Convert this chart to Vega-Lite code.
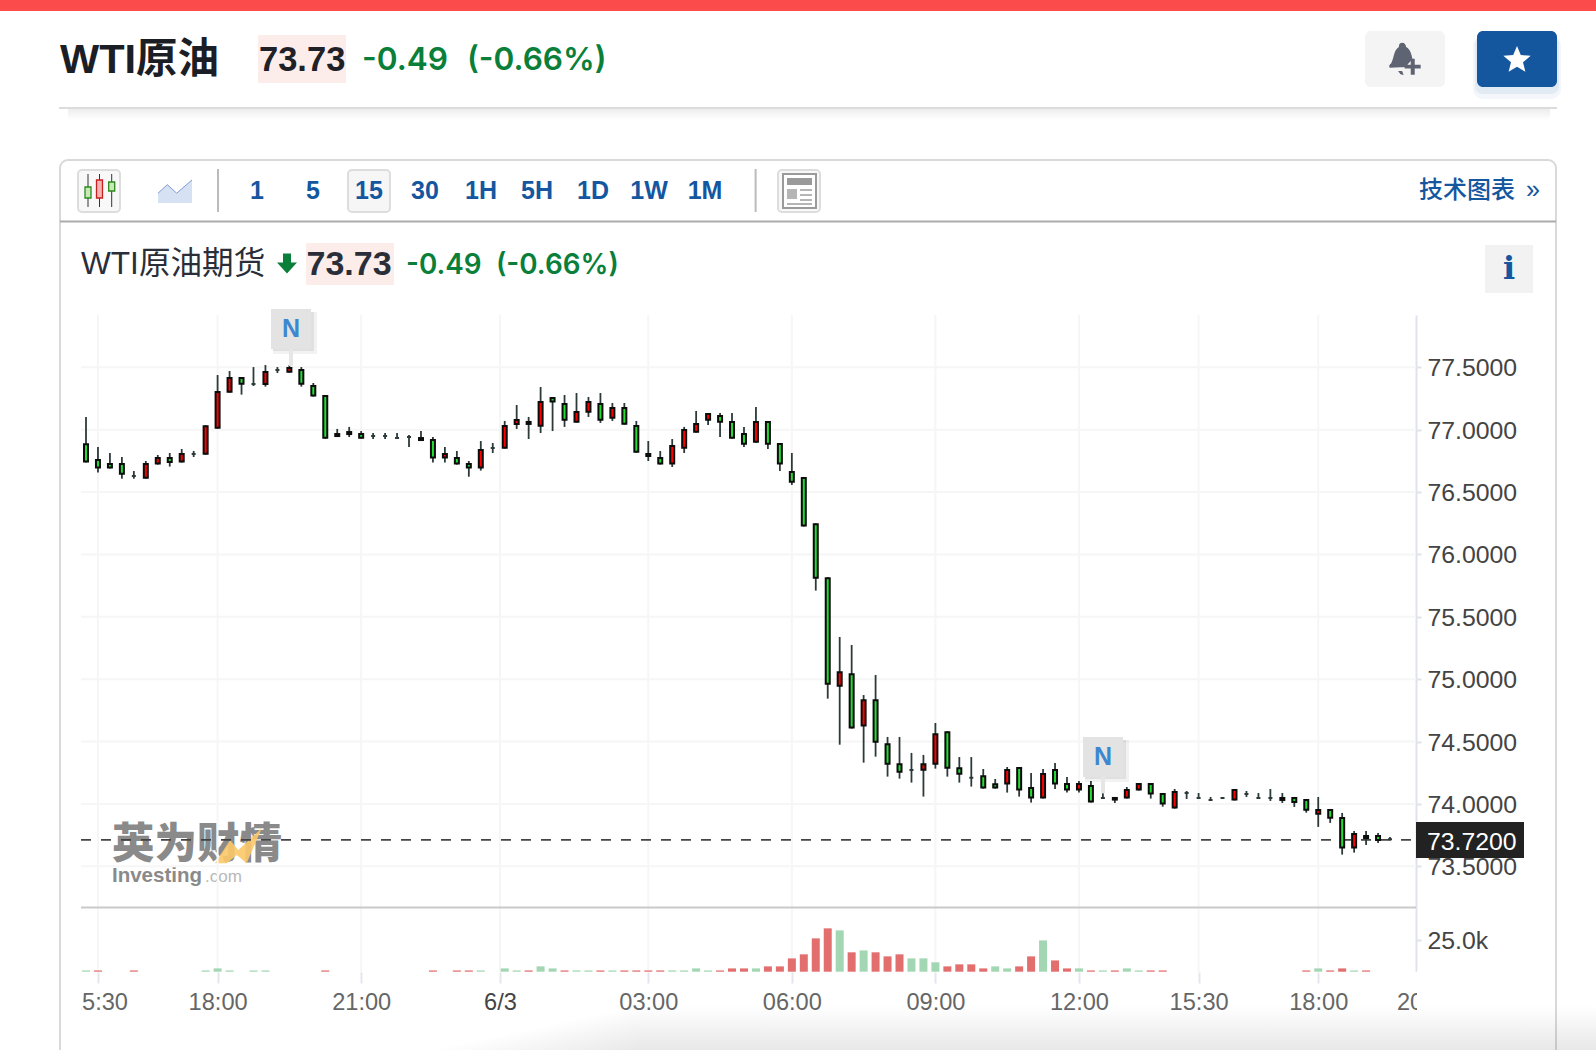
{"$schema":"https://vega.github.io/schema/vega-lite/v6.json","width":1596,"height":1050,"padding":0,"autosize":{"type":"none"},"background":"#ffffff","config":{"view":{"stroke":null}},
"datasets":{
"candles":[
{"t":0,"o":76.883,"h":77.102,"l":76.736,"c":76.744,"d":"down"},{"t":1,"o":76.757,"h":76.861,"l":76.656,"c":76.696,"d":"down"},{"t":2,"o":76.725,"h":76.813,"l":76.688,"c":76.696,"d":"down"},{"t":3,"o":76.725,"h":76.781,"l":76.607,"c":76.647,"d":"down"},{"t":4,"o":76.629,"h":76.669,"l":76.607,"c":76.629,"d":"flat"},{"t":5,"o":76.615,"h":76.749,"l":76.607,"c":76.725,"d":"up"},{"t":6,"o":76.728,"h":76.797,"l":76.72,"c":76.773,"d":"up"},{"t":7,"o":76.773,"h":76.813,"l":76.704,"c":76.741,"d":"down"},{"t":8,"o":76.744,"h":76.845,"l":76.736,"c":76.805,"d":"up"},{"t":9,"o":76.805,"h":76.829,"l":76.781,"c":76.805,"d":"flat"},
{"t":10,"o":76.808,"h":77.035,"l":76.8,"c":77.027,"d":"up"},{"t":11,"o":77.016,"h":77.438,"l":77.008,"c":77.302,"d":"up"},{"t":12,"o":77.305,"h":77.47,"l":77.297,"c":77.414,"d":"up"},{"t":13,"o":77.414,"h":77.422,"l":77.281,"c":77.369,"d":"down"},{"t":14,"o":77.366,"h":77.502,"l":77.35,"c":77.366,"d":"flat"},{"t":15,"o":77.366,"h":77.518,"l":77.345,"c":77.462,"d":"up"},{"t":16,"o":77.478,"h":77.502,"l":77.454,"c":77.478,"d":"flat"},{"t":17,"o":77.465,"h":77.518,"l":77.457,"c":77.494,"d":"up"},{"t":18,"o":77.478,"h":77.502,"l":77.345,"c":77.369,"d":"down"},{"t":19,"o":77.35,"h":77.374,"l":77.265,"c":77.273,"d":"down"},
{"t":20,"o":77.27,"h":77.278,"l":76.928,"c":76.936,"d":"down"},{"t":21,"o":76.965,"h":77.006,"l":76.941,"c":76.949,"d":"down"},{"t":22,"o":76.981,"h":77.022,"l":76.941,"c":76.965,"d":"down"},{"t":23,"o":76.965,"h":76.989,"l":76.928,"c":76.936,"d":"down"},{"t":24,"o":76.949,"h":76.973,"l":76.925,"c":76.949,"d":"flat"},{"t":25,"o":76.949,"h":76.973,"l":76.925,"c":76.949,"d":"flat"},{"t":26,"o":76.933,"h":76.973,"l":76.933,"c":76.933,"d":"flat"},{"t":27,"o":76.941,"h":76.957,"l":76.861,"c":76.941,"d":"flat"},{"t":28,"o":76.933,"h":76.989,"l":76.909,"c":76.917,"d":"down"},{"t":29,"o":76.917,"h":76.941,"l":76.736,"c":76.776,"d":"down"},
{"t":30,"o":76.776,"h":76.861,"l":76.736,"c":76.805,"d":"up"},{"t":31,"o":76.773,"h":76.829,"l":76.72,"c":76.728,"d":"down"},{"t":32,"o":76.725,"h":76.749,"l":76.623,"c":76.696,"d":"down"},{"t":33,"o":76.696,"h":76.909,"l":76.672,"c":76.837,"d":"up"},{"t":34,"o":76.853,"h":76.893,"l":76.813,"c":76.853,"d":"flat"},{"t":35,"o":76.856,"h":77.07,"l":76.848,"c":77.03,"d":"up"},{"t":36,"o":77.046,"h":77.198,"l":77.006,"c":77.078,"d":"up"},{"t":37,"o":77.062,"h":77.102,"l":76.925,"c":77.046,"d":"down"},{"t":38,"o":77.032,"h":77.342,"l":76.973,"c":77.222,"d":"up"},{"t":39,"o":77.254,"h":77.262,"l":76.989,"c":77.225,"d":"down"},
{"t":40,"o":77.206,"h":77.278,"l":77.022,"c":77.08,"d":"down"},{"t":41,"o":77.064,"h":77.294,"l":77.056,"c":77.142,"d":"up"},{"t":42,"o":77.144,"h":77.262,"l":77.102,"c":77.222,"d":"up"},{"t":43,"o":77.206,"h":77.294,"l":77.054,"c":77.08,"d":"down"},{"t":44,"o":77.096,"h":77.214,"l":77.07,"c":77.174,"d":"up"},{"t":45,"o":77.174,"h":77.214,"l":77.04,"c":77.048,"d":"down"},{"t":46,"o":77.03,"h":77.07,"l":76.816,"c":76.824,"d":"down"},{"t":47,"o":76.805,"h":76.909,"l":76.749,"c":76.789,"d":"down"},{"t":48,"o":76.773,"h":76.829,"l":76.72,"c":76.728,"d":"down"},{"t":49,"o":76.728,"h":76.925,"l":76.701,"c":76.869,"d":"up"},
{"t":50,"o":76.856,"h":77.022,"l":76.813,"c":76.998,"d":"up"},{"t":51,"o":76.984,"h":77.15,"l":76.976,"c":77.046,"d":"up"},{"t":52,"o":77.08,"h":77.134,"l":77.038,"c":77.126,"d":"up"},{"t":53,"o":77.11,"h":77.134,"l":76.941,"c":77.064,"d":"down"},{"t":54,"o":77.062,"h":77.134,"l":76.928,"c":76.936,"d":"down"},{"t":55,"o":76.965,"h":77.022,"l":76.861,"c":76.888,"d":"down"},{"t":56,"o":76.904,"h":77.182,"l":76.896,"c":77.062,"d":"up"},{"t":57,"o":77.062,"h":77.07,"l":76.845,"c":76.888,"d":"down"},{"t":58,"o":76.885,"h":76.893,"l":76.669,"c":76.728,"d":"down"},{"t":59,"o":76.661,"h":76.813,"l":76.557,"c":76.583,"d":"down"},
{"t":60,"o":76.613,"h":76.621,"l":76.223,"c":76.231,"d":"down"},{"t":61,"o":76.241,"h":76.249,"l":75.71,"c":75.814,"d":"down"},{"t":62,"o":75.809,"h":75.817,"l":74.844,"c":74.964,"d":"down"},{"t":63,"o":74.948,"h":75.338,"l":74.475,"c":75.055,"d":"up"},{"t":64,"o":75.039,"h":75.274,"l":74.604,"c":74.612,"d":"down"},{"t":65,"o":74.628,"h":74.873,"l":74.331,"c":74.831,"d":"up"},{"t":66,"o":74.831,"h":75.034,"l":74.379,"c":74.499,"d":"down"},{"t":67,"o":74.478,"h":74.537,"l":74.219,"c":74.323,"d":"down"},{"t":68,"o":74.318,"h":74.537,"l":74.203,"c":74.259,"d":"down"},{"t":69,"o":74.272,"h":74.409,"l":74.171,"c":74.272,"d":"flat"},
{"t":70,"o":74.275,"h":74.393,"l":74.059,"c":74.318,"d":"up"},{"t":71,"o":74.323,"h":74.649,"l":74.283,"c":74.558,"d":"up"},{"t":72,"o":74.574,"h":74.582,"l":74.219,"c":74.291,"d":"down"},{"t":73,"o":74.286,"h":74.376,"l":74.171,"c":74.243,"d":"down"},{"t":74,"o":74.211,"h":74.376,"l":74.139,"c":74.211,"d":"flat"},{"t":75,"o":74.222,"h":74.28,"l":74.123,"c":74.131,"d":"down"},{"t":76,"o":74.157,"h":74.2,"l":74.123,"c":74.131,"d":"down"},{"t":77,"o":74.163,"h":74.296,"l":74.091,"c":74.272,"d":"up"},{"t":78,"o":74.288,"h":74.296,"l":74.059,"c":74.115,"d":"down"},{"t":79,"o":74.128,"h":74.248,"l":74.011,"c":74.051,"d":"down"},
{"t":80,"o":74.051,"h":74.28,"l":74.043,"c":74.24,"d":"up"},{"t":81,"o":74.272,"h":74.329,"l":74.12,"c":74.163,"d":"down"},{"t":82,"o":74.16,"h":74.216,"l":74.091,"c":74.115,"d":"down"},{"t":83,"o":74.115,"h":74.184,"l":74.091,"c":74.16,"d":"up"},{"t":84,"o":74.144,"h":74.184,"l":74.011,"c":74.019,"d":"down"},{"t":85,"o":74.048,"h":74.085,"l":74.043,"c":74.048,"d":"flat"},{"t":86,"o":74.048,"h":74.056,"l":74.008,"c":74.035,"d":"down"},{"t":87,"o":74.051,"h":74.136,"l":74.043,"c":74.112,"d":"up"},{"t":88,"o":74.115,"h":74.168,"l":74.107,"c":74.16,"d":"up"},{"t":89,"o":74.16,"h":74.168,"l":74.043,"c":74.083,"d":"down"},
{"t":90,"o":74.08,"h":74.088,"l":73.978,"c":74.003,"d":"down"},{"t":91,"o":73.971,"h":74.12,"l":73.962,"c":74.096,"d":"up"},{"t":92,"o":74.088,"h":74.104,"l":74.04,"c":74.088,"d":"flat"},{"t":93,"o":74.048,"h":74.088,"l":74.04,"c":74.048,"d":"flat"},{"t":94,"o":74.032,"h":74.056,"l":74.024,"c":74.032,"d":"flat"},{"t":95,"o":74.048,"h":74.048,"l":74.048,"c":74.048,"d":"flat"},{"t":96,"o":74.035,"h":74.12,"l":74.027,"c":74.112,"d":"up"},{"t":97,"o":74.08,"h":74.104,"l":74.056,"c":74.08,"d":"flat"},{"t":98,"o":74.048,"h":74.088,"l":74.04,"c":74.048,"d":"flat"},{"t":99,"o":74.048,"h":74.12,"l":74.024,"c":74.048,"d":"flat"},
{"t":100,"o":74.048,"h":74.088,"l":74.008,"c":74.032,"d":"down"},{"t":101,"o":74.048,"h":74.056,"l":73.976,"c":74.016,"d":"down"},{"t":102,"o":74.032,"h":74.04,"l":73.93,"c":73.954,"d":"down"},{"t":103,"o":73.922,"h":74.056,"l":73.816,"c":73.952,"d":"up"},{"t":104,"o":73.952,"h":73.96,"l":73.848,"c":73.89,"d":"down"},{"t":105,"o":73.888,"h":73.928,"l":73.594,"c":73.65,"d":"down"},{"t":106,"o":73.65,"h":73.783,"l":73.61,"c":73.759,"d":"up"},{"t":107,"o":73.743,"h":73.783,"l":73.671,"c":73.727,"d":"down"},{"t":108,"o":73.743,"h":73.767,"l":73.687,"c":73.711,"d":"down"},{"t":109,"o":73.717,"h":73.735,"l":73.711,"c":73.717,"d":"flat"}
],
"volume":[
{"t":0,"v":1000,"d":"down"},{"t":1,"v":1000,"d":"up"},{"t":4,"v":1000,"d":"up"},{"t":10,"v":1000,"d":"down"},{"t":11,"v":2600,"d":"down"},{"t":12,"v":1000,"d":"down"},{"t":14,"v":1000,"d":"down"},{"t":15,"v":1000,"d":"down"},{"t":20,"v":1000,"d":"up"},{"t":29,"v":1000,"d":"up"},{"t":31,"v":1000,"d":"up"},{"t":32,"v":1000,"d":"up"},{"t":33,"v":1000,"d":"down"},{"t":35,"v":2600,"d":"down"},{"t":36,"v":1000,"d":"down"},{"t":37,"v":1000,"d":"up"},{"t":38,"v":4200,"d":"down"},{"t":39,"v":2600,"d":"down"},{"t":40,"v":1000,"d":"up"},{"t":41,"v":1000,"d":"down"},{"t":42,"v":1000,"d":"down"},{"t":43,"v":1000,"d":"up"},{"t":44,"v":1000,"d":"down"},{"t":45,"v":1000,"d":"up"},{"t":46,"v":1000,"d":"up"},{"t":47,"v":1000,"d":"up"},{"t":48,"v":1000,"d":"up"},{"t":49,"v":1000,"d":"down"},{"t":50,"v":1000,"d":"down"},{"t":51,"v":2600,"d":"down"},{"t":52,"v":1000,"d":"down"},{"t":53,"v":1000,"d":"up"},{"t":54,"v":2600,"d":"up"},{"t":55,"v":2600,"d":"up"},{"t":56,"v":2600,"d":"down"},{"t":57,"v":4200,"d":"up"},{"t":58,"v":4200,"d":"up"},{"t":59,"v":10500,"d":"up"},{"t":60,"v":13700,"d":"up"},{"t":61,"v":26300,"d":"up"},{"t":62,"v":34200,"d":"up"},{"t":63,"v":32600,"d":"down"},{"t":64,"v":15300,"d":"up"},{"t":65,"v":16800,"d":"down"},{"t":66,"v":15300,"d":"up"},{"t":67,"v":12100,"d":"up"},{"t":68,"v":13700,"d":"up"},{"t":69,"v":10500,"d":"down"},{"t":70,"v":10500,"d":"down"},{"t":71,"v":7400,"d":"down"},{"t":72,"v":4200,"d":"up"},{"t":73,"v":5800,"d":"up"},{"t":74,"v":5800,"d":"up"},{"t":75,"v":2600,"d":"up"},{"t":76,"v":4200,"d":"down"},{"t":77,"v":2600,"d":"down"},{"t":78,"v":4200,"d":"up"},{"t":79,"v":12100,"d":"up"},{"t":80,"v":24700,"d":"down"},{"t":81,"v":8900,"d":"up"},{"t":82,"v":2600,"d":"up"},{"t":83,"v":2600,"d":"down"},{"t":84,"v":1000,"d":"up"},{"t":85,"v":1000,"d":"down"},{"t":86,"v":1000,"d":"up"},{"t":87,"v":2600,"d":"down"},{"t":88,"v":1000,"d":"down"},{"t":89,"v":1000,"d":"up"},{"t":90,"v":1000,"d":"up"},{"t":102,"v":1000,"d":"up"},{"t":103,"v":2600,"d":"down"},{"t":104,"v":1000,"d":"up"},{"t":105,"v":2600,"d":"up"},{"t":106,"v":1000,"d":"down"},{"t":107,"v":1000,"d":"up"}
],
"levels":[{"p":73.5},{"p":74},{"p":74.5},{"p":75},{"p":75.5},{"p":76},{"p":76.5},{"p":77},{"p":77.5}],
"slots":[{"t":1},{"t":11},{"t":23},{"t":34.6},{"t":47},{"t":59},{"t":71},{"t":83},{"t":93},{"t":103}]
},
"resolve":{"scale":{"x":"independent","y":"independent","fill":"independent","stroke":"independent"},"axis":{"x":"independent","y":"independent"}},
"layer":[
{"data":{"values":[{}]},
"encoding":{"x":{"type":"quantitative","scale":{"domain":[0,1596],"range":[0,1596]},"axis":null},"y":{"type":"quantitative","scale":{"domain":[0,1050],"range":[0,1050]},"axis":null}},
"layer":[
{"mark":{"type":"rect","color":"#fb4b4b"},"encoding":{"x":{"datum":0},"x2":{"datum":1596},"y":{"datum":0},"y2":{"datum":11}}},
{"mark":{"type":"rect","color":{"gradient":"linear","x1":0,"y1":0,"x2":0,"y2":1,"stops":[{"offset":0,"color":"rgba(0,0,0,0.07)"},{"offset":1,"color":"rgba(0,0,0,0)"}]}},"encoding":{"x":{"datum":68},"x2":{"datum":1550},"y":{"datum":109},"y2":{"datum":120}}},
{"mark":{"type":"rule","color":"#dcdcdc","strokeWidth":2},"encoding":{"x":{"datum":59},"x2":{"datum":1557},"y":{"datum":108}}},
{"mark":{"type":"rect","color":"#fcedeb"},"encoding":{"x":{"datum":258},"x2":{"datum":346},"y":{"datum":35},"y2":{"datum":83}}},
{"mark":{"type":"text","align":"left","baseline":"middle","font":"Liberation Sans, Noto Sans CJK SC","fontSize":41.5,"fontWeight":"bold","color":"#1b1e25"},"encoding":{"x":{"datum":60},"y":{"datum":61},"text":{"value":"WTI原油"}}},
{"mark":{"type":"text","align":"left","baseline":"middle","font":"Liberation Sans","fontSize":34.5,"fontWeight":"bold","color":"#1f2126"},"encoding":{"x":{"datum":259},"y":{"datum":61},"text":{"value":"73.73"}}},
{"mark":{"type":"text","align":"left","baseline":"middle","font":"Inter","fontSize":31.6,"fontWeight":600,"color":"#0a7f3a"},"encoding":{"x":{"datum":362},"y":{"datum":61},"text":{"value":"-0.49"}}},
{"mark":{"type":"text","align":"left","baseline":"middle","font":"Inter","fontSize":31.6,"fontWeight":600,"color":"#0a7f3a"},"encoding":{"x":{"datum":467},"y":{"datum":61},"text":{"value":"(-0.66%)"}}},
{"mark":{"type":"rect","color":"#f4f4f4","cornerRadius":6},"encoding":{"x":{"datum":1365},"x2":{"datum":1445},"y":{"datum":31},"y2":{"datum":87}}},
{"mark":{"type":"point","filled":true,"opacity":1,"color":"#5f6472","size":1024,"shape":"M-0.2,-1 C-0.05,-1.05 0.1,-0.9 0.1,-0.75 C0.4,-0.6 0.45,-0.2 0.5,0 L0.05,0.5 L-0.9,0.55 C-1,0.5 -0.95,0.35 -0.85,0.3 C-0.65,0 -0.7,-0.55 -0.35,-0.75 C-0.35,-0.9 -0.3,-1 -0.2,-1Z M-0.4,0.75 L-0.15,0.75 L-0.05,1 L-0.25,0.95Z M0.39,-0.02 H0.64 V0.36 H1.01 V0.6 H0.64 V0.98 H0.39 V0.6 H0.01 V0.36 H0.39 Z"},"encoding":{"x":{"datum":1404.5},"y":{"datum":59}}},
{"mark":{"type":"rect","color":"#14579f","opacity":0.05,"cornerRadius":10},"encoding":{"x":{"datum":1473},"x2":{"datum":1561},"y":{"datum":36},"y2":{"datum":99}}},
{"mark":{"type":"rect","color":"#14579f","opacity":0.07,"cornerRadius":8},"encoding":{"x":{"datum":1475},"x2":{"datum":1559},"y":{"datum":36},"y2":{"datum":94}}},
{"mark":{"type":"rect","color":"#14579f","cornerRadius":6},"encoding":{"x":{"datum":1477},"x2":{"datum":1557},"y":{"datum":31},"y2":{"datum":87}}},
{"mark":{"type":"point","shape":"M0,-1 L0.27,-0.35 L0.98,-0.3 L0.43,0.16 L0.6,0.85 L0,0.48 L-0.6,0.85 L-0.43,0.16 L-0.98,-0.3 L-0.27,-0.35 Z","filled":true,"opacity":1,"color":"#ffffff","size":780},"encoding":{"x":{"datum":1517},"y":{"datum":60}}},
{"mark":{"type":"rect","fill":null,"stroke":"#d9d9d9","strokeWidth":2,"cornerRadius":8},"encoding":{"x":{"datum":60},"x2":{"datum":1556},"y":{"datum":160},"y2":{"datum":1120}}},
{"mark":{"type":"rule","color":"#ababab","strokeWidth":2},"encoding":{"x":{"datum":60},"x2":{"datum":1556},"y":{"datum":221.5}}},
{"mark":{"type":"rect","fill":"#f8f8f8","stroke":"#dddddd","strokeWidth":2,"cornerRadius":4},"encoding":{"x":{"datum":78},"x2":{"datum":120},"y":{"datum":170},"y2":{"datum":212}}},
{"mark":{"type":"rule","color":"#333333","strokeWidth":1},"encoding":{"x":{"datum":88},"y":{"datum":174},"y2":{"datum":207}}},
{"mark":{"type":"rule","color":"#333333","strokeWidth":1},"encoding":{"x":{"datum":99.5},"y":{"datum":174},"y2":{"datum":207}}},
{"mark":{"type":"rule","color":"#333333","strokeWidth":1},"encoding":{"x":{"datum":111.7},"y":{"datum":174},"y2":{"datum":207}}},
{"mark":{"type":"rect","fill":"#c8e8b8","stroke":"#2a8a1a","strokeWidth":1.3},"encoding":{"x":{"datum":85},"x2":{"datum":91},"y":{"datum":187},"y2":{"datum":198}}},
{"mark":{"type":"rect","fill":"#f2b5b5","stroke":"#c81e1e","strokeWidth":1.3},"encoding":{"x":{"datum":96.5},"x2":{"datum":102.5},"y":{"datum":180},"y2":{"datum":198}}},
{"mark":{"type":"rect","fill":"#c8e8b8","stroke":"#2a8a1a","strokeWidth":1.3},"encoding":{"x":{"datum":108.7},"x2":{"datum":114.7},"y":{"datum":182},"y2":{"datum":191}}},
{"mark":{"type":"point","filled":true,"opacity":1,"color":"#d6e1f4","size":1156,"shape":"M-1,0.1 L-0.45,-0.4 L0.1,0.1 L1,-0.68 L1,0.68 L-1,0.68Z"},"encoding":{"x":{"datum":175},"y":{"datum":191.5}}},
{"mark":{"type":"point","filled":false,"opacity":1,"color":"#7f9cd0","strokeWidth":1,"size":1156,"shape":"M-1,0.1 L-0.45,-0.4 L0.1,0.1 L1,-0.68"},"encoding":{"x":{"datum":175},"y":{"datum":191.5}}},
{"mark":{"type":"rule","color":"#bbbbbb","strokeWidth":2},"encoding":{"x":{"datum":218},"y":{"datum":169},"y2":{"datum":212}}},
{"mark":{"type":"rule","color":"#bbbbbb","strokeWidth":2},"encoding":{"x":{"datum":755.6},"y":{"datum":169},"y2":{"datum":212}}},
{"mark":{"type":"rect","fill":"#f6f6f6","stroke":"#dddddd","strokeWidth":2,"cornerRadius":4},"encoding":{"x":{"datum":348},"x2":{"datum":390},"y":{"datum":170},"y2":{"datum":212}}},
{"data":{"values":[{"k":"1"},{"k":"5"},{"k":"15"},{"k":"30"},{"k":"1H"},{"k":"5H"},{"k":"1D"},{"k":"1W"},{"k":"1M"}]},"mark":{"type":"text","baseline":"middle","font":"Liberation Sans","fontSize":25,"fontWeight":"bold","color":"#14579f"},"encoding":{"x":{"field":"k","type":"nominal","scale":{"type":"point","domain":["1","5","15","30","1H","5H","1D","1W","1M"],"range":[257,705],"padding":0}},"y":{"datum":191},"text":{"field":"k"}}},
{"mark":{"type":"rect","fill":"#f8f8f8","stroke":"#dddddd","strokeWidth":2,"cornerRadius":4},"encoding":{"x":{"datum":778},"x2":{"datum":820},"y":{"datum":170},"y2":{"datum":212}}},
{"mark":{"type":"rect","fill":"#ffffff","stroke":"#9a9a9a","strokeWidth":2},"encoding":{"x":{"datum":783},"x2":{"datum":816},"y":{"datum":174},"y2":{"datum":208}}},
{"mark":{"type":"rect","color":"#9a9a9a"},"encoding":{"x":{"datum":787},"x2":{"datum":812},"y":{"datum":178},"y2":{"datum":185}}},
{"mark":{"type":"rect","color":"#b5b5b5"},"encoding":{"x":{"datum":787},"x2":{"datum":797},"y":{"datum":189},"y2":{"datum":199}}},
{"mark":{"type":"rule","color":"#b5b5b5","strokeWidth":2},"encoding":{"x":{"datum":800},"x2":{"datum":812},"y":{"datum":190}}},
{"mark":{"type":"rule","color":"#b5b5b5","strokeWidth":2},"encoding":{"x":{"datum":800},"x2":{"datum":812},"y":{"datum":195}}},
{"mark":{"type":"rule","color":"#b5b5b5","strokeWidth":2},"encoding":{"x":{"datum":800},"x2":{"datum":812},"y":{"datum":200}}},
{"mark":{"type":"rule","color":"#b5b5b5","strokeWidth":2},"encoding":{"x":{"datum":787},"x2":{"datum":812},"y":{"datum":204}}},
{"mark":{"type":"text","align":"left","baseline":"middle","font":"Noto Sans CJK SC","fontSize":24,"fontWeight":500,"color":"#14579f"},"encoding":{"x":{"datum":1419},"y":{"datum":191},"text":{"value":"技术图表"}}},
{"mark":{"type":"text","align":"left","baseline":"middle","font":"Liberation Sans","fontSize":25,"color":"#14579f"},"encoding":{"x":{"datum":1526},"y":{"datum":190},"text":{"value":"»"}}},
{"mark":{"type":"text","align":"left","baseline":"middle","font":"Liberation Sans, Noto Sans CJK SC","fontSize":31.6,"color":"#2a2e39"},"encoding":{"x":{"datum":81},"y":{"datum":265},"text":{"value":"WTI原油期货"}}},
{"mark":{"type":"point","filled":true,"opacity":1,"color":"#0a7f3a","size":400,"shape":"M-0.4,-1 H0.4 V-0.1 H1 L0,1 L-1,-0.1 H-0.4 Z"},"encoding":{"x":{"datum":287},"y":{"datum":263.5}}},
{"mark":{"type":"rect","color":"#fcedeb"},"encoding":{"x":{"datum":306},"x2":{"datum":394},"y":{"datum":243},"y2":{"datum":285}}},
{"mark":{"type":"text","align":"left","baseline":"middle","font":"Liberation Sans","fontSize":34,"fontWeight":"bold","color":"#2a2e39"},"encoding":{"x":{"datum":306.5},"y":{"datum":265},"text":{"value":"73.73"}}},
{"mark":{"type":"text","align":"left","baseline":"middle","font":"Inter","fontSize":27.8,"fontWeight":600,"color":"#0a7f3a"},"encoding":{"x":{"datum":406},"y":{"datum":266},"text":{"value":"-0.49"}}},
{"mark":{"type":"text","align":"left","baseline":"middle","font":"Inter","fontSize":27.8,"fontWeight":600,"color":"#0a7f3a"},"encoding":{"x":{"datum":496},"y":{"datum":266},"text":{"value":"(-0.66%)"}}},
{"mark":{"type":"rect","color":"#f2f2f2"},"encoding":{"x":{"datum":1485},"x2":{"datum":1533},"y":{"datum":245},"y2":{"datum":293}}},
{"mark":{"type":"text","align":"center","baseline":"middle","font":"DejaVu Serif","fontSize":32,"fontWeight":"bold","color":"#14579f"},"encoding":{"x":{"datum":1509},"y":{"datum":269},"text":{"value":"i"}}},
{"mark":{"type":"text","align":"left","baseline":"middle","font":"Noto Sans CJK SC","fontSize":42.5,"fontWeight":900,"color":"#8a8a8a"},"encoding":{"x":{"datum":112},"y":{"datum":845},"text":{"value":"英为财情"}}},
{"mark":{"type":"point","filled":true,"opacity":0.9,"color":"#fcc868","size":2304,"shape":"M-0.96,0.72 L-0.33,-0.25 L0.01,0.17 L0.99,-0.74 L0.36,0.72 L-0.05,0.38 L-0.47,0.72 Z"},"encoding":{"x":{"datum":238},"y":{"datum":846}}},
{"mark":{"type":"text","align":"left","baseline":"middle","font":"Liberation Sans","fontSize":20.5,"fontWeight":"bold","color":"#8a8a8a"},"encoding":{"x":{"datum":112},"y":{"datum":876},"text":{"value":"Investing"}}},
{"mark":{"type":"text","align":"left","baseline":"middle","font":"Liberation Sans","fontSize":17,"color":"#b8b8b8"},"encoding":{"x":{"datum":205},"y":{"datum":877},"text":{"value":".com"}}}
]},
{"encoding":{"x":{"type":"quantitative","scale":{"domain":[0,112],"range":[86,1425.9],"padding":0},"axis":null},"y":{"type":"quantitative","scale":{"domain":[73.17,77.92],"range":[907.5,314.9],"padding":0}}},
"layer":[
{"data":{"name":"levels"},"mark":{"type":"rule","color":"#f6f6f6","strokeWidth":2},"encoding":{"y":{"field":"p","axis":{"orient":"right","offset":-180,"values":[73.5,74,74.5,75,75.5,76,76.5,77,77.5],"format":".4f","title":null,"grid":false,"domainColor":"#e0e3eb","domainWidth":2,"tickColor":"#e0e3eb","tickWidth":2,"tickSize":5,"labelFont":"Liberation Sans","labelFontSize":24.8,"labelColor":"#444444","labelPadding":6,"labelOffset":1.5}},"x":{"datum":-0.42},"x2":{"datum":111.18}}},
{"data":{"name":"slots"},"mark":{"type":"rule","color":"#f6f6f6","strokeWidth":2},"encoding":{"x":{"field":"t"},"y":{"datum":72.653},"y2":{"datum":77.92}}},
{"data":{"values":[{}]},"mark":{"type":"rule","color":"#444444","strokeWidth":1.7,"strokeDash":[10,10]},"encoding":{"y":{"datum":73.712},"x":{"datum":-0.42},"x2":{"datum":111.18}}},
{"data":{"values":[{}]},"mark":{"type":"rule","color":"#c9c9c9","strokeWidth":2},"encoding":{"y":{"datum":73.17},"x":{"datum":-0.42},"x2":{"datum":111.18}}},
{"data":{"name":"candles"},"mark":{"type":"rule","color":"#2d3a3a","strokeWidth":1.8},"encoding":{"x":{"field":"t"},"y":{"field":"l"},"y2":{"field":"h"}}},
{"data":{"name":"candles"},"mark":{"type":"bar","size":4,"strokeWidth":2},"encoding":{"x":{"field":"t"},"y":{"field":"o"},"y2":{"field":"c"},"fill":{"field":"d","type":"nominal","legend":null,"scale":{"domain":["up","down","flat"],"range":["#ff0000","#22dd33","#2d3a3a"]}},"stroke":{"field":"d","type":"nominal","legend":null,"scale":{"domain":["up","down","flat"],"range":["#0c0c0c","#0c0c0c","#2d3a3a"]}}}}
]},
{"data":{"name":"volume"},
"encoding":{"x":{"field":"t","type":"quantitative","scale":{"domain":[0,112],"range":[86,1425.9],"padding":0},"axis":{"orient":"bottom","offset":-78,"values":[1,11,23,34.6,47,59,71,83,93,103,112],"title":null,"grid":false,"domain":false,"tickColor":"#e3e6ec","tickWidth":2,"tickSize":11,"labelFont":"Liberation Sans","labelFontSize":23.6,"labelColor":{"condition":{"test":"datum.value==34.6","value":"#444444"},"value":"#666666"},"labelPadding":7,"labelFlush":false,"labelOverlap":false,"labelExpr":"{'1':'15:30','11':'18:00','23':'21:00','34.6':'6/3','47':'03:00','59':'06:00','71':'09:00','83':'12:00','93':'15:30','103':'18:00','112':'20:00'}[datum.value]"}},"y":{"type":"quantitative","scale":{"domain":[0,50500],"range":[971.7,907.7],"padding":0}}},
"layer":[
{"mark":{"type":"bar","size":8},"encoding":{"y":{"field":"v","axis":{"orient":"right","offset":-180,"values":[25000],"title":null,"grid":false,"domainColor":"#e0e3eb","domainWidth":2,"tickColor":"#e0e3eb","tickWidth":2,"tickSize":5,"labelFont":"Liberation Sans","labelFontSize":24.8,"labelColor":"#444444","labelPadding":6,"labelOffset":1.5,"labelExpr":"format(datum.value/1000,'.1f')+'k'"}},"fill":{"field":"d","type":"nominal","legend":null,"scale":{"domain":["up","down"],"range":["#e36e6e","#a3d6b3"]}}}},
{"data":{"values":[{}]},"mark":{"type":"rule","color":"#e0e3eb","strokeWidth":2},"encoding":{"y":{"datum":-500},"x":{"datum":-0.42},"x2":{"datum":111.18}}}
]},
{"data":{"values":[{}]},
"encoding":{"x":{"type":"quantitative","scale":{"domain":[0,1596],"range":[0,1596]},"axis":null},"y":{"type":"quantitative","scale":{"domain":[0,1050],"range":[0,1050]},"axis":null}},
"layer":[
{"mark":{"type":"rect","color":"#ffffff"},"encoding":{"x":{"datum":61},"x2":{"datum":81},"y":{"datum":984},"y2":{"datum":1022}}},
{"mark":{"type":"rect","color":"#ffffff"},"encoding":{"x":{"datum":1417},"x2":{"datum":1520},"y":{"datum":970},"y2":{"datum":1022}}},
{"mark":{"type":"rect","color":"#222222"},"encoding":{"x":{"datum":1416},"x2":{"datum":1524},"y":{"datum":822},"y2":{"datum":858}}},
{"mark":{"type":"text","align":"left","baseline":"middle","font":"Liberation Sans","fontSize":24.8,"color":"#ffffff"},"encoding":{"x":{"datum":1427},"y":{"datum":843},"text":{"value":"73.7200"}}},
{"mark":{"type":"rect","color":"#000000","opacity":0.05},"encoding":{"x":{"datum":273},"x2":{"datum":317},"y":{"datum":312},"y2":{"datum":354}}},
{"mark":{"type":"rect","color":"#000000","opacity":0.07},"encoding":{"x":{"datum":273},"x2":{"datum":314},"y":{"datum":312},"y2":{"datum":351}}},
{"mark":{"type":"rect","color":"#e6e6e6"},"encoding":{"x":{"datum":289},"x2":{"datum":293},"y":{"datum":349},"y2":{"datum":366}}},
{"mark":{"type":"rect","color":"#e3e3e3"},"encoding":{"x":{"datum":271},"x2":{"datum":311},"y":{"datum":309},"y2":{"datum":349}}},
{"mark":{"type":"text","align":"center","baseline":"middle","font":"Liberation Sans","fontSize":25,"fontWeight":"bold","color":"#3c87d0"},"encoding":{"x":{"datum":291},"y":{"datum":329},"text":{"value":"N"}}},
{"mark":{"type":"rect","color":"#000000","opacity":0.05},"encoding":{"x":{"datum":1085},"x2":{"datum":1129},"y":{"datum":740},"y2":{"datum":782}}},
{"mark":{"type":"rect","color":"#000000","opacity":0.07},"encoding":{"x":{"datum":1085},"x2":{"datum":1126},"y":{"datum":740},"y2":{"datum":779}}},
{"mark":{"type":"rect","color":"#e6e6e6"},"encoding":{"x":{"datum":1101},"x2":{"datum":1105},"y":{"datum":777},"y2":{"datum":793}}},
{"mark":{"type":"rect","color":"#e3e3e3"},"encoding":{"x":{"datum":1083},"x2":{"datum":1123},"y":{"datum":737},"y2":{"datum":777}}},
{"mark":{"type":"text","align":"center","baseline":"middle","font":"Liberation Sans","fontSize":25,"fontWeight":"bold","color":"#3c87d0"},"encoding":{"x":{"datum":1103},"y":{"datum":757},"text":{"value":"N"}}},
{"mark":{"type":"rect","color":{"gradient":"linear","x1":0,"y1":0,"x2":0,"y2":1,"stops":[{"offset":0,"color":"rgba(0,0,0,0)"},{"offset":1,"color":"rgba(0,0,0,0.09)"}]}},"encoding":{"x":{"datum":640},"x2":{"datum":1596},"y":{"datum":1005},"y2":{"datum":1050}}},
{"mark":{"type":"rect","color":{"gradient":"linear","x1":0,"y1":0,"x2":1,"y2":1,"stops":[{"offset":0.5,"color":"rgba(0,0,0,0)"},{"offset":1,"color":"rgba(0,0,0,0.09)"}]}},"encoding":{"x":{"datum":430},"x2":{"datum":640},"y":{"datum":1005},"y2":{"datum":1050}}}
]}
]}
